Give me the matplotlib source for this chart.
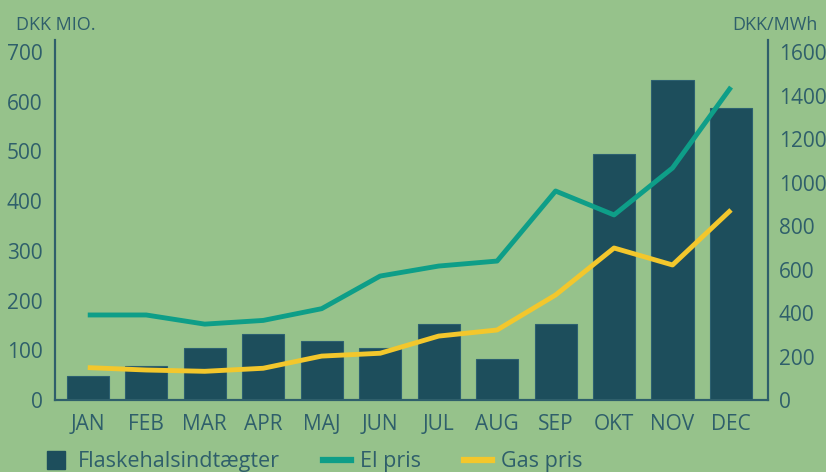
import matplotlib.pyplot as plt
from matplotlib.lines import Line2D

plt.rcParams['font.family'] = ['Open Sans', 'DejaVu Sans']

# data
months = ['JAN', 'FEB', 'MAR', 'APR', 'MAJ', 'JUN', 'JUL', 'AUG', 'SEP', 'OKT', 'NOV', 'DEC']
flaskehals = [48, 69, 104, 132, 119, 105, 153, 82, 153, 495, 644, 587]   # DKK mio.
el_pris = [391, 391, 349, 366, 420, 570, 616, 639, 961, 851, 1067, 1439]  # DKK/MWh
gas_pris = [149, 138, 132, 146, 202, 215, 294, 322, 483, 699, 621, 874]   # DKK/MWh

bg = '#96c28b'
bar_col = '#1d4e5c'
el_col = '#0e9e88'
gas_col = '#f3c72c'
txt = '#2f5f6b'

fig = plt.figure(figsize=(8.26, 4.72), dpi=100, facecolor=bg)
ax = fig.add_axes([0.0666, 0.1525, 0.863, 0.7625], facecolor=bg)
ax2 = ax.twinx()

x = range(len(months))
ax.bar(x, flaskehals, width=0.72, color=bar_col, edgecolor='#2c6070', linewidth=0.8, zorder=2)
ax2.plot(x, el_pris, color=el_col, lw=3.5, solid_capstyle='butt', zorder=3)
ax2.plot(x, gas_pris, color=gas_col, lw=3.5, solid_capstyle='butt', zorder=3)

ax.set_xlim(-0.56, 11.63)
ax.set_ylim(0, 724)
ax2.set_ylim(0, 724 / 700 * 1600)
ax.set_yticks(range(0, 701, 100))
ax2.set_yticks(range(0, 1601, 200))
ax.set_xticks(list(x))
ax.set_xticklabels(months)

for a in (ax, ax2):
    a.tick_params(length=0, labelsize=15, labelcolor=txt)
    for s in a.spines.values():
        s.set_color(txt)
        s.set_linewidth(1.5)
    a.spines['top'].set_visible(False)
ax.tick_params(axis='x', pad=10)
ax.tick_params(axis='y', pad=9)
ax2.tick_params(axis='y', pad=8)

fig.text(0.019, 0.947, 'DKK MIO.', color=txt, fontsize=13, va='center')
fig.text(0.99, 0.947, 'DKK/MWh', color=txt, fontsize=13, va='center', ha='right')

handles = [Line2D([], [], color=bar_col, marker='s', markersize=13, linestyle='none'),
           Line2D([], [], color=el_col, lw=4.5),
           Line2D([], [], color=gas_col, lw=4.5)]
fig.legend(handles, ['Flaskehalsindtægter', 'El pris', 'Gas pris'], loc='center left',
           bbox_to_anchor=(0.027, 0.022), ncol=3, frameon=False, fontsize=15.5,
           labelcolor=txt, handlelength=1.3, handletextpad=0.4, columnspacing=2.0)

fig.savefig('out.png', dpi=100, facecolor=bg)
